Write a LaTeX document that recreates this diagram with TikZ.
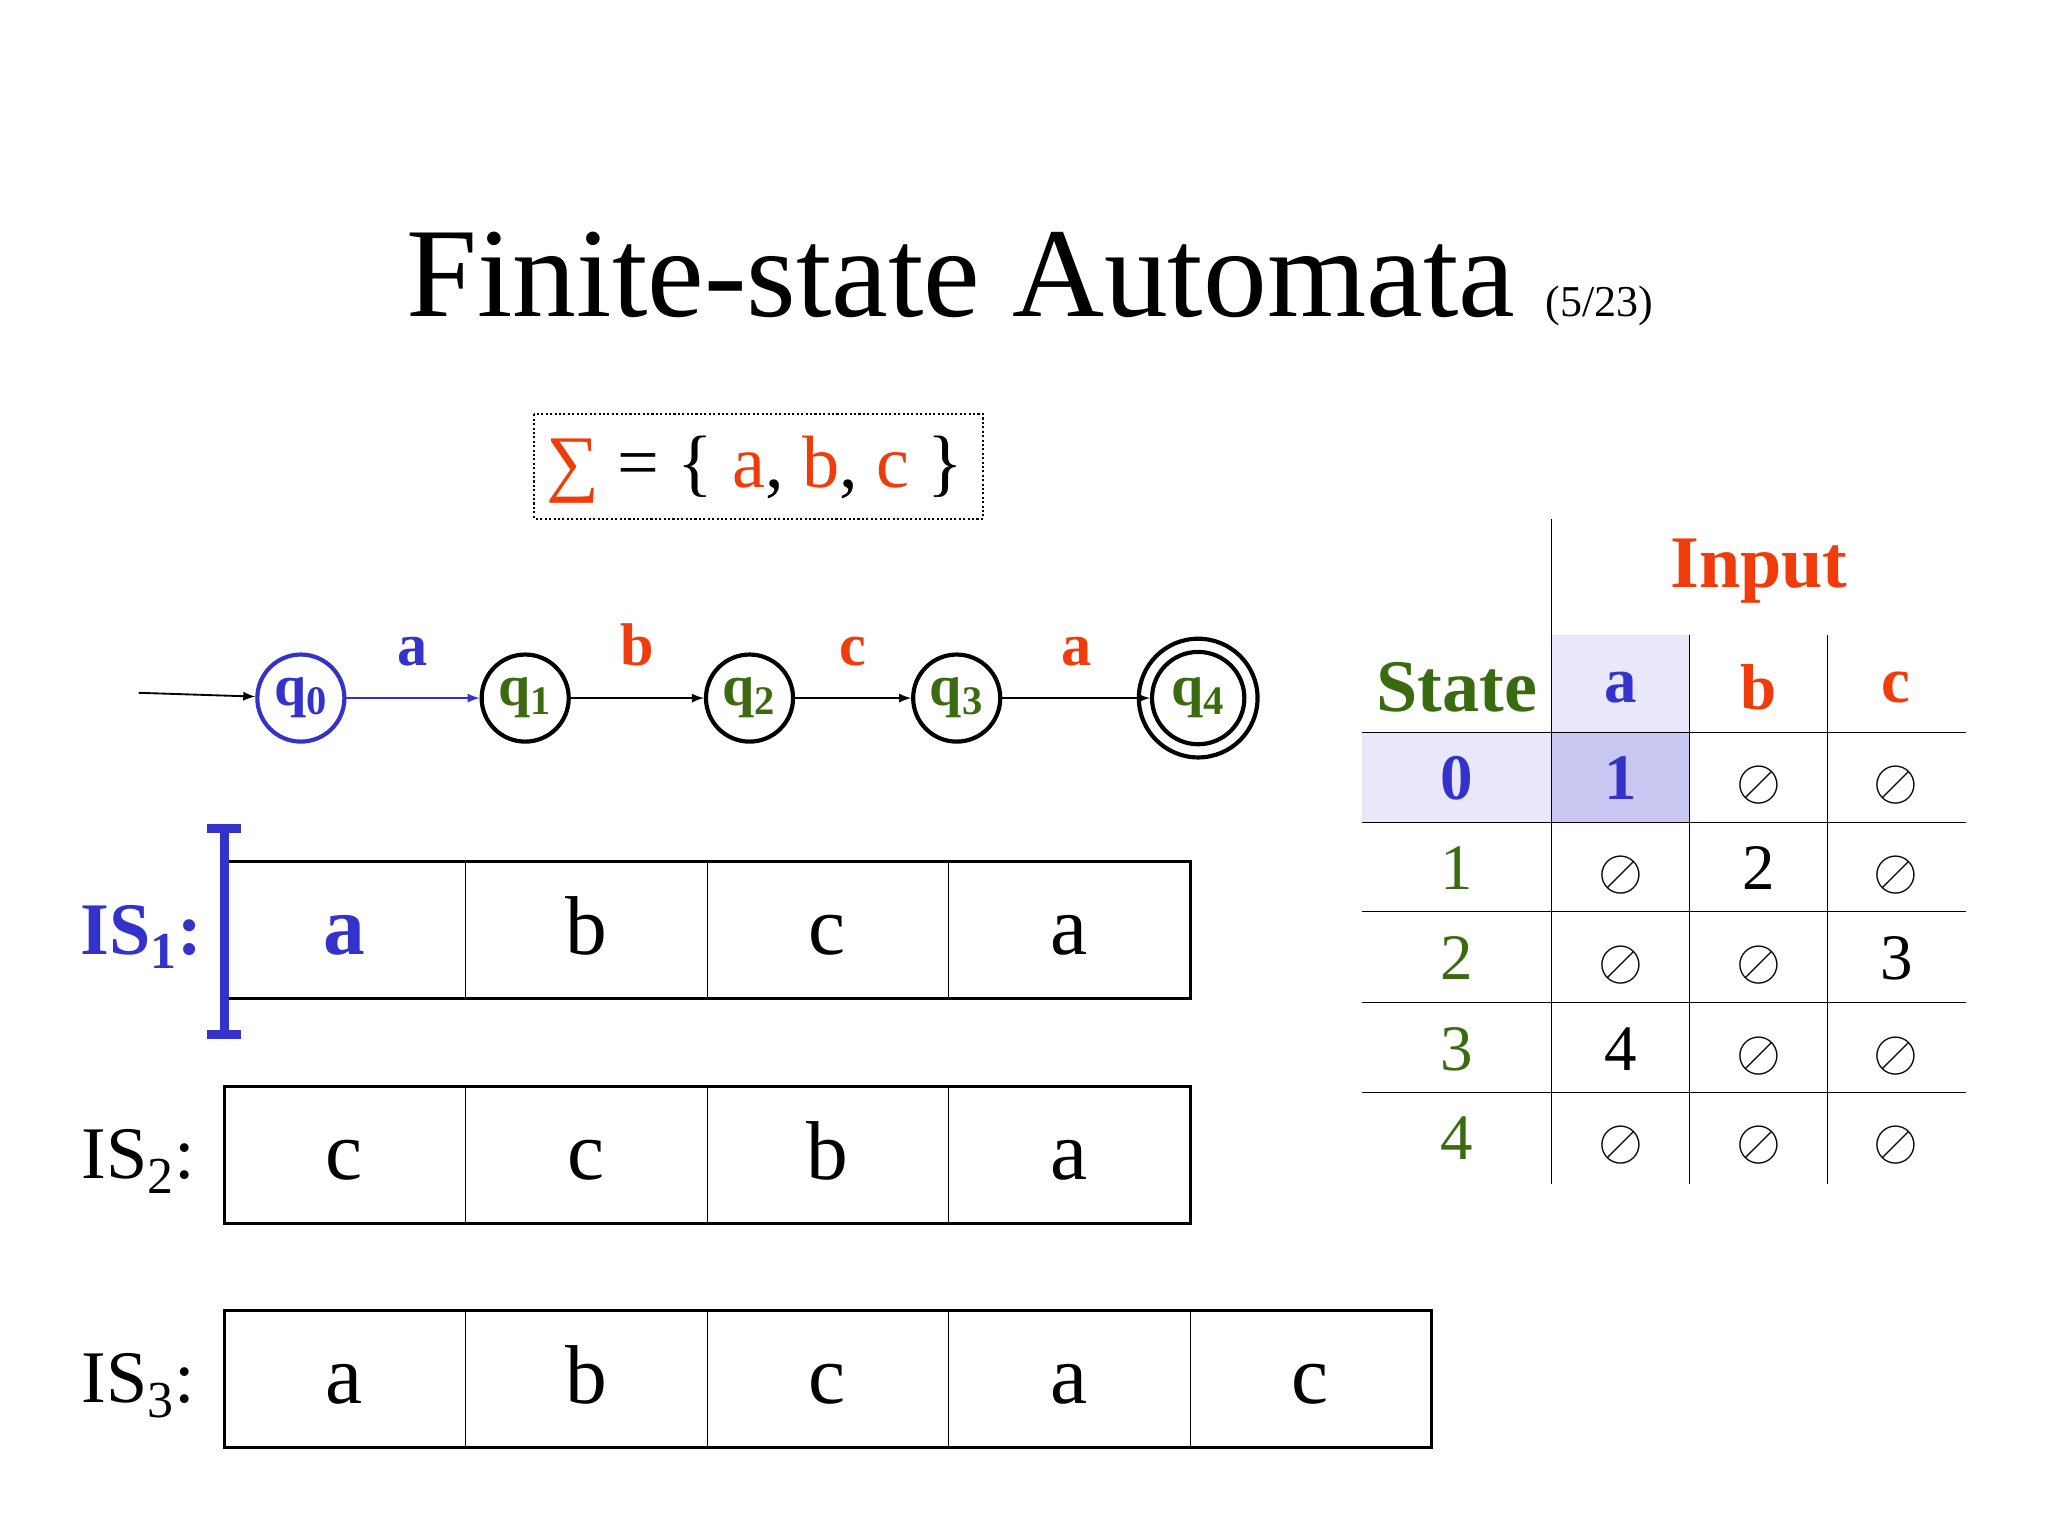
\documentclass[tikz,border=0pt]{standalone}
\usepackage{fontspec}
\setmainfont{Liberation Serif}
\definecolor{myblue}{HTML}{3333CC}
\definecolor{myred}{HTML}{F03C0A}
\definecolor{mygreen}{HTML}{3A6B10}
\definecolor{lav}{HTML}{E8E8FA}
\definecolor{lavd}{HTML}{C8C8F2}
\newcommand{\fs}[1]{\fontsize{#1}{#1}\selectfont}
\newcommand{\es}{{\fs{30}$\oslash$}}
\newcommand{\sbs}[1]{\textsubscript{#1}}
\begin{document}
\begin{tikzpicture}[x=0.02cm,y=-0.02cm,
  st/.style={circle,draw,line width=1.8pt,minimum size=1.32cm,inner sep=0pt,font=\fs{25}\bfseries,text=mygreen},
  lbl/.style={font=\fs{26}\bfseries},
  cell/.style={font=\fs{36},text height=25pt,text depth=4pt},
  tc/.style={font=\fs{28},text height=19pt,text depth=2pt},
  ec/.style={text height=19pt,text depth=2pt},
  tape/.style={line width=1.3pt},
  tl/.style={line width=0.5pt},
  ed/.style={-latex,line width=0.8pt}]
\useasboundingbox (0,0) rectangle (1552,1164);
% title
\node[font=\fs{55},anchor=base] (title) at (728,240) {Finite-state Automata};
\node[font=\fs{19},anchor=base] (pg) at (1212,240) {(5/23)};
% sigma box
\draw[densely dotted,line width=0.9pt] (405,314) rectangle (745,393);
\node[font=\fs{32}] (sig) at (572,356) {\textcolor{myred}{∑} = \{ \textcolor{myred}{a}, \textcolor{myred}{b}, \textcolor{myred}{c} \}};
% automaton
\node[st,draw=myblue,text=myblue] (q0) at (228,529) {q\sbs{0}};
\node[st] (q1) at (398,529) {q\sbs{1}};
\node[st] (q2) at (568,529) {q\sbs{2}};
\node[st] (q3) at (725,529) {q\sbs{3}};
\node[st,minimum size=1.4cm] (q4) at (908,529) {q\sbs{4}};
\draw[line width=1.8pt] (q4) circle (0.9cm);
\coordinate (init) at (105,525);
\draw[ed] (init) -- (q0);
\draw[ed,myblue] (q0) -- node[lbl,above=10pt,text=myblue]{a} (q1);
\draw[ed] (q1) -- node[lbl,above=10pt,text=myred]{b} (q2);
\draw[ed] (q2) -- node[lbl,above=10pt,text=myred]{c} (q3);
\draw[ed] (q3) -- node[lbl,above=10pt,text=myred]{a} (q4);
% tapes
\draw[tape] (170,653) rectangle (902,757);
\draw[tape] (170,823) rectangle (902,927);
\draw[tape] (170,993) rectangle (1085,1097);
\foreach \x in {353,536,719} {\draw[tl] (\x,653)--(\x,757); \draw[tl] (\x,823)--(\x,927); \draw[tl] (\x,993)--(\x,1097);}
\draw[tl] (902,993)--(902,1097);
\node[cell,font=\fs{36}\bfseries,text=myblue] (t11) at (261,705) {a};
\node[cell] (t12) at (444,705) {b};
\node[cell] (t13) at (627,705) {c};
\node[cell] (t14) at (810,705) {a};
\node[cell] (t21) at (261,875) {c};
\node[cell] (t22) at (444,875) {c};
\node[cell] (t23) at (627,875) {b};
\node[cell] (t24) at (810,875) {a};
\node[cell] (t31) at (261,1045) {a};
\node[cell] (t32) at (444,1045) {b};
\node[cell] (t33) at (627,1045) {c};
\node[cell] (t34) at (810,1045) {a};
\node[cell] (t35) at (993,1045) {c};
\draw[myblue,line width=4pt] (157,628)--(183,628) (170,628)--(170,784) (157,784)--(183,784);
\node[font=\fs{32}\bfseries,text=myblue] (is1) at (107,710) {IS\sbs{1}:};
\node[font=\fs{32}] (is2) at (105,880) {IS\sbs{2}:};
\node[font=\fs{32}] (is3) at (105,1050) {IS\sbs{3}:};
% table
\fill[lav] (1176,481) rectangle (1280,555);
\fill[lav] (1032,555) rectangle (1176,623);
\fill[lavd] (1176,555) rectangle (1280,623);
\draw[tl] (1176,393)--(1176,897);
\draw[tl] (1280,481)--(1280,897);
\draw[tl] (1385,481)--(1385,897);
\foreach \y in {555,623,691,760,828} \draw[tl] (1032,\y)--(1490,\y);
\node[font=\fs{32}\bfseries,text=myred] (inp) at (1333,433) {Input};
\node[font=\fs{32}\bfseries,text=mygreen] (state) at (1104,521) {State};
\node[font=\fs{28}\bfseries,text=myblue] (ha) at (1228,521) {a};
\node[font=\fs{28}\bfseries,text=myred] (hb) at (1333,521) {b};
\node[font=\fs{28}\bfseries,text=myred] (hc) at (1437,521) {c};
\node[tc,font=\fs{28}\bfseries,text=myblue] (s0) at (1104,591) {0};
\node[tc,font=\fs{28}\bfseries,text=myblue] (r0a) at (1228,591) {1};
\node[ec] (r0b) at (1333,591) {\es};
\node[ec] (r0c) at (1437,591) {\es};
\node[tc,text=mygreen] (s1) at (1104,659) {1};
\node[ec] (r1a) at (1228,659) {\es};
\node[tc] (r1b) at (1333,659) {2};
\node[ec] (r1c) at (1437,659) {\es};
\node[tc,text=mygreen] (s2) at (1104,727) {2};
\node[ec] (r2a) at (1228,727) {\es};
\node[ec] (r2b) at (1333,727) {\es};
\node[tc] (r2c) at (1437,727) {3};
\node[tc,text=mygreen] (s3) at (1104,796) {3};
\node[tc] (r3a) at (1228,796) {4};
\node[ec] (r3b) at (1333,796) {\es};
\node[ec] (r3c) at (1437,796) {\es};
\node[tc,text=mygreen] (s4) at (1104,864) {4};
\node[ec] (r4a) at (1228,864) {\es};
\node[ec] (r4b) at (1333,864) {\es};
\node[ec] (r4c) at (1437,864) {\es};
\end{tikzpicture}
\end{document}
